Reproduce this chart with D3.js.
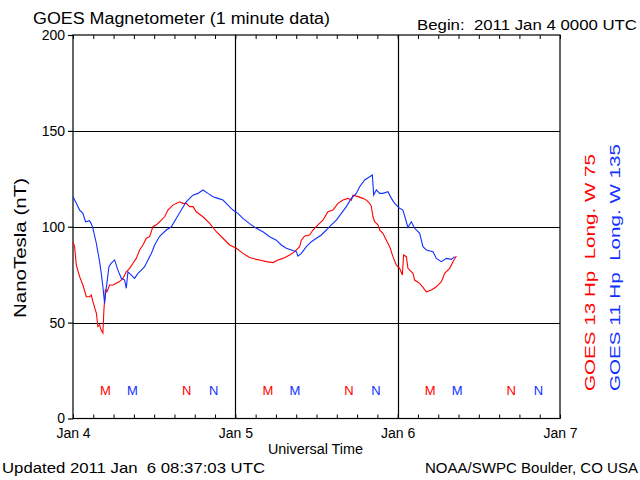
<!DOCTYPE html>
<html><head><meta charset="utf-8">
<script src="https://cdn.jsdelivr.net/npm/d3@7"></script>
<style>
html,body{margin:0;padding:0;background:#fff;}
svg text{font-family:"Liberation Sans","DejaVu Sans",sans-serif;fill:#000;white-space:pre;}
</style></head>
<body><svg id="c" width="640" height="480"></svg>
<script>
// hours since 2011 Jan 4 00:00 UTC
const g13Hours = [0,0.24,0.49,0.98,1.46,1.97,2.45,2.71,2.94,3.45,3.68,3.93,4.18,4.42,4.57,4.78,5.01,5.41,5.9,6.4,6.89,7.38,7.88,8.37,8.86,9.36,9.85,10.34,10.84,11.33,11.81,12.32,12.81,13.54,14.03,14.77,15.76,16.25,16.75,17.24,17.73,18.23,19.21,20.2,21.19,22.17,23.16,24.15,25.12,26.11,27.1,27.59,28.58,29.56,30.3,31.04,32.03,32.77,33.51,33.76,34.25,34.99,35.48,36.21,36.95,37.69,38.43,39.17,39.91,40.65,41.15,41.39,42.13,42.87,43.37,43.86,44.11,44.35,44.6,45.09,45.34,45.82,46.33,46.82,47.3,47.81,48.29,48.69,48.88,49.28,49.52,50.26,50.51,51.25,51.74,52.24,52.98,53.72,54.46,54.95,55.69,56.18,56.68];
const g13Values = [92,89.6,80,74,69.6,63.5,63.5,64.4,61,55,47.9,48.8,46,44.5,56.6,67,66,69.6,69.6,70.5,71.4,73,76.5,78.3,81,83.5,87.9,90.5,94,94.8,100,101,102.6,105.2,108.7,111.3,113,112.2,112.2,110.5,110.5,107.8,105.2,101.8,97.4,94,90.5,88.8,86.1,84,83,82.7,81.8,81.3,82.7,83.5,85.3,87,89.6,93,95.2,95.7,98.3,101,103.5,107.8,108.7,112.2,113.9,114.8,113.9,116.5,115.7,114.8,113.9,112.2,110.5,105.2,102.6,101,98.3,96.6,93,89.6,84.4,80,78.3,74.8,85.3,84.4,78.3,75.7,72.2,70.5,68.4,66.1,67,68.7,71.4,75.7,78.3,81.8,84.7];
const g11Hours = [0,0.49,0.98,1.46,1.86,2.45,2.71,2.94,3.45,3.93,4.18,4.42,4.67,4.82,5.01,5.31,5.66,6.15,6.64,7.14,7.63,7.88,8.12,8.62,9.11,9.6,10.1,10.59,11.08,11.58,12.07,12.81,13.79,14.54,15.28,16.01,16.75,17.24,17.73,18.47,19.21,19.95,20.69,21.43,22.17,22.91,23.64,24.38,25.12,26.11,27.1,28.08,29.07,30.06,30.8,31.54,32.28,33.02,33.26,33.76,34.5,35.24,35.98,36.72,37.46,38.19,38.93,39.67,40.41,41.15,41.89,42.38,43.12,43.86,44.26,44.45,44.85,45.34,45.82,46.56,47.07,47.55,48.29,48.78,49.28,49.52,50.02,50.51,51.25,51.74,52.24,53.22,53.72,54.46,55.2,55.94,56.43];
const g11Values = [115.7,112.2,108.7,107,102.6,103.2,101.5,99.2,91.4,81.8,75.7,68.7,60,65.3,70.5,79.2,81,82.7,77.4,73.1,72.2,67.9,76.5,74.8,73.1,75.7,77.4,79.2,82.7,86.1,90.5,95,98.3,100,104.4,108.7,113,114.8,116.5,117.4,119.2,117.4,115.7,114.8,113.9,111.3,108.7,107,104.4,101.6,99.2,97.4,94.8,93,90.5,88.8,87.9,87,84.7,86.1,89.6,92.2,94,95.7,98.3,101,103.5,107,110.5,114.8,117.4,120.9,124.4,126.1,127,116.5,119.2,117.4,117.4,118.3,114.8,112.2,109.6,108.7,102.6,99.7,102.6,99.2,96.6,89.6,87.9,87,83.5,81.8,83.5,83,84.4];
const markerText = ["M","M","N","N","M","M","N","N","M","M","N","N"];
const markerHours = [4.8,8.8,16.8,20.8,28.8,32.8,40.8,44.8,52.8,56.8,64.8,68.8];
const markerSat = [13,11,13,11,13,11,13,11,13,11,13,11];
const dayLabels = ["Jan 4","Jan 5","Jan 6","Jan 7"];
const dayHours = [0,24,48,72];
const yTicks = [0,50,100,150,200];
const minorHours = d3.range(0,73,3);

const RED="#ff0000", BLUE="#1030ff";
const svg=d3.select("#c");
const L=73, R=560, T=35, B=418.5;
const x=d3.scaleLinear().domain([0,72]).range([L,R]);
const y=d3.scaleLinear().domain([0,200]).range([B,T]);

// grid
svg.append("g").selectAll("line").data([50,100,150]).join("line")
  .attr("x1",L).attr("x2",R).attr("y1",d=>Math.round(y(d))+0.5).attr("y2",d=>Math.round(y(d))+0.5)
  .attr("stroke","#000").attr("stroke-width",1.2);
svg.append("g").selectAll("line").data([24,48]).join("line")
  .attr("y1",T).attr("y2",B).attr("x1",d=>Math.round(x(d))+0.5).attr("x2",d=>Math.round(x(d))+0.5)
  .attr("stroke","#000").attr("stroke-width",1.2);

// frame
svg.append("rect").attr("x",L).attr("y",T).attr("width",R-L).attr("height",B-T)
  .attr("fill","none").attr("stroke","#000").attr("stroke-width",1.2);

// axes ticks
const axB=d3.axisBottom(x).tickValues(minorHours).tickSizeInner(-4).tickSizeOuter(0).tickFormat("");
svg.append("g").attr("transform",`translate(0,${B})`).call(axB).call(g=>g.select(".domain").remove());
const axT=d3.axisTop(x).tickValues(minorHours).tickSizeInner(-4).tickSizeOuter(0).tickFormat("");
svg.append("g").attr("transform",`translate(0,${T})`).call(axT).call(g=>g.select(".domain").remove());
const axDays=d3.axisBottom(x).tickValues(dayHours).tickSize(0).tickPadding(10).tickFormat((d,i)=>dayLabels[i]);
svg.append("g").attr("transform",`translate(0,${B})`).call(axDays)
  .call(g=>g.select(".domain").remove())
  .selectAll("text").attr("font-size",14).attr("font-family","Liberation Sans");
const axL=d3.axisLeft(y).tickValues(yTicks).tickSizeInner(5).tickSizeOuter(0).tickPadding(3);
svg.append("g").attr("transform",`translate(${L},0)`).call(axL)
  .call(g=>g.select(".domain").remove())
  .call(g=>g.selectAll("line").attr("stroke-width",1.2))
  .selectAll("text").attr("font-size",14).attr("font-family","Liberation Sans");

// data lines
const line=d3.line().x(d=>x(d[0])).y(d=>y(d[1]));
const s13=g13Hours.map((h,i)=>[h,g13Values[i]]);
const s11=g11Hours.map((h,i)=>[h,g11Values[i]]);
svg.append("path").attr("d",line(s13)).attr("fill","none").attr("stroke",RED).attr("stroke-width",1.1);
svg.append("path").attr("d",line(s11)).attr("fill","none").attr("stroke",BLUE).attr("stroke-width",1.1);

// markers
svg.append("g").selectAll("text").data(markerText).join("text")
  .attr("x",(d,i)=>x(markerHours[i])).attr("y",y(12.5))
  .attr("text-anchor","middle").attr("font-size",13)
  .style("fill",(d,i)=>markerSat[i]===13?RED:BLUE)
  .text(d=>d);

// texts
function txt(s,xx,yy,len,size,anchor,col,rot){
  const t=svg.append("text").attr("x",xx).attr("y",yy).attr("font-size",size)
    .attr("text-anchor",anchor||"start").attr("xml:space","preserve").text(s);
  if(len) t.attr("textLength",len).attr("lengthAdjust","spacingAndGlyphs");
  if(col) t.style("fill",col);
  if(rot) t.attr("transform",`rotate(-90,${xx},${yy})`);
  return t;
}
txt("GOES Magnetometer (1 minute data)",33,24,297,16);
txt("Begin:  2011 Jan 4 0000 UTC",417,30,220,15);
txt("Universal Time",268,454,95,14);
txt("Updated 2011 Jan  6 08:37:03 UTC",2,473,263,15);
txt("NOAA/SWPC Boulder, CO USA",425,473,213,15);
txt("NanoTesla (nT)",26,318,140,17,"start",null,true);
txt("GOES 13 Hp  Long. W 75",595,391,237,15,"start",RED,true);
txt("GOES 11 Hp  Long. W 135",620,391,247,15,"start",BLUE,true);
</script></body></html>
